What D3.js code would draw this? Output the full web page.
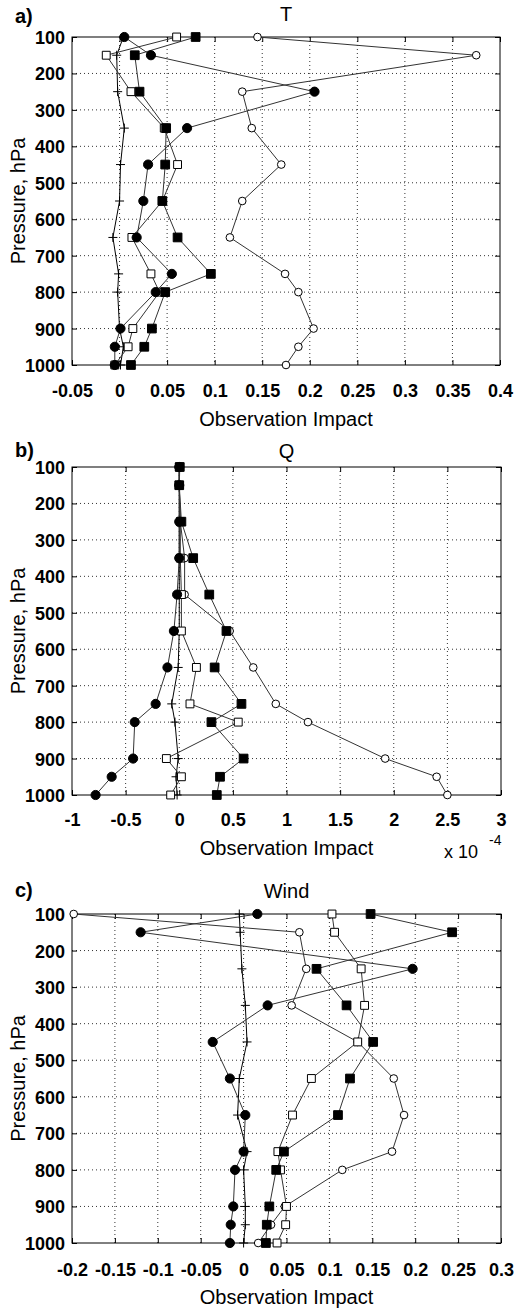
<!DOCTYPE html>
<html>
<head>
<meta charset="utf-8">
<script src="https://cdn.jsdelivr.net/npm/d3@7"></script>
<style>
  html, body { margin: 0; padding: 0; background: #fff; }
  svg { display: block; }
  text { font-family: "Liberation Sans", Arial, Helvetica, sans-serif; fill: #000; }
</style>
</head>
<body>
<svg id="chart" width="517" height="1310"></svg>
<script>
// ---------------- DATA ----------------
const levels = [100, 150, 250, 350, 450, 550, 650, 750, 800, 900, 950, 1000];
const pressureTicks = [100, 200, 300, 400, 500, 600, 700, 800, 900, 1000];

// Panel a) T
const tTicks = [-0.05, 0, 0.05, 0.1, 0.15, 0.2, 0.25, 0.3, 0.35, 0.4];
const tTickLabels = ["-0.05", "0", "0.05", "0.1", "0.15", "0.2", "0.25", "0.3", "0.35", "0.4"];
const tFilledCircle = [0.005, 0.033, 0.205, 0.071, 0.030, 0.025, 0.018, 0.055, 0.038, 0.001, -0.005, -0.005];
const tOpenCircle   = [0.145, 0.375, 0.129, 0.139, 0.170, 0.129, 0.116, 0.174, 0.188, 0.204, 0.188, 0.175];
const tFilledSquare = [0.080, 0.016, 0.021, 0.049, 0.048, 0.045, 0.061, 0.096, 0.048, 0.034, 0.026, 0.012];
const tOpenSquare   = [0.060, -0.014, 0.012, 0.047, 0.061, 0.045, 0.013, 0.033, 0.042, 0.014, 0.009, -0.005];
const tPlus         = [0.004, -0.003, -0.002, 0.005, 0.001, 0.000, -0.007, -0.001, -0.002, 0.000, 0.004, 0.001];

// Panel b) Q  (x 1e-4)
const qTicks = [-1, -0.5, 0, 0.5, 1, 1.5, 2, 2.5, 3];
const qTickLabels = ["-1", "-0.5", "0", "0.5", "1", "1.5", "2", "2.5", "3"];
const qFilledCircle = [0.0, 0.0, 0.0, 0.0, -0.02, -0.05, -0.11, -0.22, -0.415, -0.43, -0.63, -0.78];
const qOpenCircle   = [0.0, 0.0, 0.01, 0.05, 0.05, 0.47, 0.69, 0.90, 1.20, 1.92, 2.40, 2.50];
const qFilledSquare = [0.005, 0.0, 0.02, 0.13, 0.28, 0.44, 0.33, 0.58, 0.30, 0.60, 0.38, 0.35];
const qOpenSquare   = [0.0, 0.0, 0.01, 0.01, 0.02, 0.02, 0.16, 0.10, 0.55, -0.12, 0.02, -0.08];
const qPlus         = [0.0, 0.0, 0.0, 0.0, 0.0, 0.0, -0.01, -0.07, -0.04, -0.01, -0.03, -0.02];

// Panel c) Wind
const wTicks = [-0.2, -0.15, -0.1, -0.05, 0, 0.05, 0.1, 0.15, 0.2, 0.25, 0.3];
const wTickLabels = ["-0.2", "-0.15", "-0.1", "-0.05", "0", "0.05", "0.1", "0.15", "0.2", "0.25", "0.3"];
const wFilledCircle = [0.016, -0.120, 0.197, 0.028, -0.036, -0.016, 0.002, 0.000, -0.010, -0.012, -0.015, -0.016];
const wOpenCircle   = [-0.198, 0.065, 0.073, 0.056, 0.133, 0.175, 0.187, 0.173, 0.115, 0.048, 0.032, 0.017];
const wFilledSquare = [0.148, 0.243, 0.085, 0.120, 0.151, 0.124, 0.110, 0.047, 0.038, 0.030, 0.027, 0.026];
const wOpenSquare   = [0.103, 0.106, 0.137, 0.141, 0.133, 0.079, 0.057, 0.040, 0.043, 0.050, 0.049, 0.039];
const wPlus         = [-0.005, -0.004, -0.002, 0.002, 0.004, -0.005, -0.007, 0.004, 0.000, 0.002, 0.002, 0.000];

// ---------------- LAYOUT / STYLE ----------------
const panels = [
  { tag: "a)", title: "T", ticks: tTicks, labels: tTickLabels,
    series: { plus: tPlus, openCircle: tOpenCircle, openSquare: tOpenSquare, filledCircle: tFilledCircle, filledSquare: tFilledSquare },
    left: 72, right: 500, top: 37, bottom: 365, titleY: 21, tagY: 23, tickBase: 32, obsY: 426, exponent: false },
  { tag: "b)", title: "Q", ticks: qTicks, labels: qTickLabels,
    series: { plus: qPlus, openCircle: qOpenCircle, openSquare: qOpenSquare, filledCircle: qFilledCircle, filledSquare: qFilledSquare },
    left: 72, right: 501, top: 467, bottom: 795, titleY: 458, tagY: 457, tickBase: 31, obsY: 855, exponent: true },
  { tag: "c)", title: "Wind", ticks: wTicks, labels: wTickLabels,
    series: { plus: wPlus, openCircle: wOpenCircle, openSquare: wOpenSquare, filledCircle: wFilledCircle, filledSquare: wFilledSquare },
    left: 72, right: 501, top: 914, bottom: 1243, titleY: 898, tagY: 897, tickBase: 33, obsY: 1304, exponent: false }
];

const drawOrder = ["plus", "openCircle", "openSquare", "filledCircle", "filledSquare"];
const markers = {
  plus:         { path: "M-4.5,0H4.5M0,-4.5V4.5", fill: "none", stroke: "#000" },
  openCircle:   { path: d3.symbol(d3.symbolCircle, 46)(), fill: "#fff", stroke: "#000" },
  openSquare:   { path: d3.symbol(d3.symbolSquare, 62)(), fill: "#fff", stroke: "#000" },
  filledCircle: { path: d3.symbol(d3.symbolCircle, 66)(), fill: "#000", stroke: "#000" },
  filledSquare: { path: d3.symbol(d3.symbolSquare, 76)(), fill: "#000", stroke: "#000" }
};

const svg = d3.select("#chart");
svg.append("rect").attr("width", 517).attr("height", 1310).attr("fill", "#fff");

panels.forEach(p => {
  const x = d3.scaleLinear().domain([p.ticks[0], p.ticks[p.ticks.length - 1]]).range([p.left, p.right]);
  const y = d3.scaleLinear().domain([100, 1000]).range([p.top, p.bottom]);
  const g = svg.append("g");

  // grid (dotted)
  g.append("g").selectAll("line").data(p.ticks.slice(1, -1)).join("line")
    .attr("x1", d => x(d)).attr("x2", d => x(d))
    .attr("y1", p.top).attr("y2", p.bottom)
    .attr("stroke", "#333").attr("stroke-width", 1).attr("stroke-dasharray", "1,3");
  g.append("g").selectAll("line").data(pressureTicks.slice(1, -1)).join("line")
    .attr("x1", p.left).attr("x2", p.right)
    .attr("y1", d => y(d)).attr("y2", d => y(d))
    .attr("stroke", "#333").attr("stroke-width", 1).attr("stroke-dasharray", "1,3");

  // axes
  const xAxis = g.append("g").attr("transform", `translate(0,${p.bottom})`)
    .call(d3.axisBottom(x).tickValues(p.ticks).tickFormat((d, i) => p.labels[i]).tickSize(-5).tickPadding(0));
  xAxis.select(".domain").remove();
  xAxis.selectAll("line").attr("stroke", "#000");
  xAxis.selectAll("text").attr("y", p.tickBase).attr("dy", 0)
    .style("font-size", "18px").style("font-weight", "bold");

  const xTop = g.append("g").attr("transform", `translate(0,${p.top})`)
    .call(d3.axisTop(x).tickValues(p.ticks).tickFormat("").tickSize(-5));
  xTop.select(".domain").remove();
  xTop.selectAll("line").attr("stroke", "#000");

  const yAxis = g.append("g").attr("transform", `translate(${p.left},0)`)
    .call(d3.axisLeft(y).tickValues(pressureTicks).tickFormat(d3.format("d")).tickSize(-5).tickPadding(0));
  yAxis.select(".domain").remove();
  yAxis.selectAll("line").attr("stroke", "#000");
  yAxis.selectAll("text").attr("x", -7).attr("dy", "0.36em")
    .style("font-size", "18px").style("font-weight", "bold");

  const yRight = g.append("g").attr("transform", `translate(${p.right},0)`)
    .call(d3.axisRight(y).tickValues(pressureTicks).tickFormat("").tickSize(-5));
  yRight.select(".domain").remove();
  yRight.selectAll("line").attr("stroke", "#000");

  // frame
  g.append("rect").attr("x", p.left).attr("y", p.top)
    .attr("width", p.right - p.left).attr("height", p.bottom - p.top)
    .attr("fill", "none").attr("stroke", "#000").attr("stroke-width", 1);

  // series lines
  const line = d3.line().x(d => x(d[0])).y(d => y(d[1]));
  drawOrder.forEach(k => {
    const pts = p.series[k].map((v, i) => [v, levels[i]]);
    g.append("path").datum(pts).attr("d", line)
      .attr("fill", "none").attr("stroke", k === "plus" ? "#000" : "#333").attr("stroke-width", 1);
  });
  // markers
  drawOrder.forEach(k => {
    const m = markers[k];
    const pts = p.series[k].map((v, i) => [v, levels[i]]);
    g.append("g").selectAll("path").data(pts).join("path")
      .attr("transform", d => `translate(${x(d[0])},${y(d[1])})`)
      .attr("d", m.path).attr("fill", m.fill).attr("stroke", m.stroke).attr("stroke-width", 1);
  });

  // texts
  const cx = (p.left + p.right) / 2;
  g.append("text").attr("x", cx).attr("y", p.titleY).attr("text-anchor", "middle")
    .style("font-size", "20px").text(p.title);
  g.append("text").attr("x", 15).attr("y", p.tagY)
    .style("font-size", "20px").style("font-weight", "bold").text(p.tag);
  g.append("text").attr("x", cx).attr("y", p.obsY).attr("text-anchor", "middle")
    .style("font-size", "20px").text("Observation Impact");
  g.append("text").attr("transform", `translate(25,${(p.top + p.bottom) / 2}) rotate(-90)`)
    .attr("text-anchor", "middle").style("font-size", "20px").text("Pressure, hPa");
  if (p.exponent) {
    g.append("text").attr("x", 444).attr("y", p.obsY + 3).style("font-size", "18px").text("x 10");
    g.append("text").attr("x", 489).attr("y", p.obsY - 10).style("font-size", "14px").text("-4");
  }
});
</script>
</body>
</html>
